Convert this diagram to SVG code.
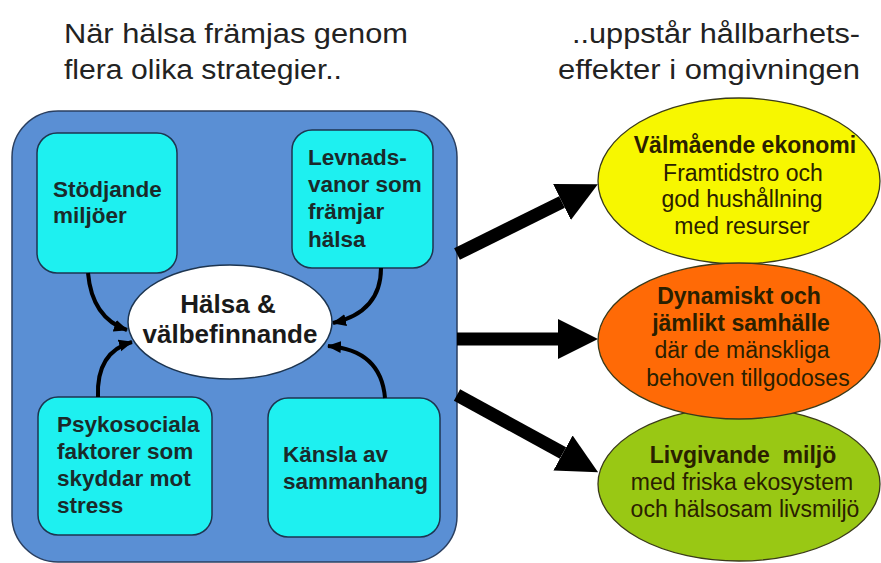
<svg xmlns="http://www.w3.org/2000/svg" width="881" height="563" viewBox="0 0 881 563">
<style>
  .title { font-family: "Liberation Sans", Arial, sans-serif; font-size: 27px; fill: #222; }
  .box { fill: #1ef0f0; stroke: #1d3550; stroke-width: 1.5; }
  .btxt { font-family: "Liberation Sans", Arial, sans-serif; font-size: 22.5px; font-weight: bold; fill: #1a2a2a; }
  .ctxt { font-family: "Liberation Sans", Arial, sans-serif; font-size: 26px; font-weight: bold; fill: #1a1a1a; text-anchor: middle; }
  .etxt { font-family: "Liberation Sans", Arial, sans-serif; font-size: 23px; fill: #2a2000; text-anchor: middle; white-space: pre; }
  .b { font-weight: bold; }
  .oval { stroke: #3a3a1a; stroke-width: 1.3; }
  .thin { fill: none; stroke: #000; stroke-width: 4; }
  .thick { fill: none; stroke: #000; stroke-width: 13; }
</style>
<defs>
  <marker id="small" markerUnits="userSpaceOnUse" markerWidth="14" markerHeight="14" viewBox="0 0 14 14" refX="13" refY="7" orient="auto">
    <path d="M0,1 L14,7 L0,13 z" fill="#000"/>
  </marker>
  <marker id="big" markerUnits="userSpaceOnUse" markerWidth="40" markerHeight="40" viewBox="0 0 40 40" refX="0" refY="20" orient="auto">
    <path d="M0,0 L40,20 L0,40 z" fill="#000"/>
  </marker>
</defs>

<g id="titles">
  <text class="title" x="64" y="43" textLength="344" lengthAdjust="spacingAndGlyphs">När hälsa främjas genom</text>
  <text class="title" x="64" y="79" textLength="278" lengthAdjust="spacingAndGlyphs">flera olika strategier..</text>
  <text class="title" x="572" y="43" textLength="288" lengthAdjust="spacingAndGlyphs">..uppstår hållbarhets-</text>
  <text class="title" x="558" y="79" textLength="302" lengthAdjust="spacingAndGlyphs">effekter i omgivningen</text>
</g>

<g id="strategier">
  <rect x="12" y="111" width="445" height="451" rx="46" ry="46" fill="#5a8fd4" stroke="#2a3f60" stroke-width="1.5"/>
</g>

<g id="stodjande">
  <rect class="box" x="37" y="133" width="140" height="140" rx="20"/>
  <text class="btxt" x="53" y="197">Stödjande</text>
  <text class="btxt" x="53" y="223">miljöer</text>
</g>

<g id="levnadsvanor">
  <rect class="box" x="292" y="130" width="141" height="138" rx="20"/>
  <text class="btxt" x="308" y="165">Levnads-</text>
  <text class="btxt" x="308" y="192">vanor som</text>
  <text class="btxt" x="308" y="219">främjar</text>
  <text class="btxt" x="308" y="247">hälsa</text>
</g>

<g id="psykosociala">
  <rect class="box" x="38" y="397" width="174" height="138" rx="20"/>
  <text class="btxt" x="57" y="432">Psykosociala</text>
  <text class="btxt" x="57" y="459">faktorer som</text>
  <text class="btxt" x="57" y="486">skyddar mot</text>
  <text class="btxt" x="57" y="513">stress</text>
</g>

<g id="kansla">
  <rect class="box" x="268" y="398" width="172" height="139" rx="20"/>
  <text class="btxt" x="283" y="462">Känsla av</text>
  <text class="btxt" x="283" y="489">sammanhang</text>
</g>

<g id="halsa">
  <ellipse cx="230" cy="322" rx="102" ry="57" fill="#fff" stroke="#1d3550" stroke-width="1.5"/>
  <text class="ctxt" x="228" y="313">Hälsa &amp;</text>
  <text class="ctxt" x="230" y="343">välbefinnande</text>
</g>

<g id="ekonomi">
  <ellipse class="oval" cx="739" cy="181" rx="141" ry="83" fill="#f7f700"/>
  <text class="etxt b" x="745" y="153">Välmående ekonomi</text>
  <text class="etxt" x="743" y="181">Framtidstro och</text>
  <text class="etxt" x="742" y="207">god hushållning</text>
  <text class="etxt" x="742" y="234">med resurser</text>
</g>

<g id="miljo">
  <ellipse class="oval" cx="739" cy="484" rx="141" ry="77" fill="#99c814"/>
  <text class="etxt b" x="743" y="463">Livgivande  miljö</text>
  <text class="etxt" x="742" y="490">med friska ekosystem</text>
  <text class="etxt" x="745" y="517">och hälsosam livsmiljö</text>
</g>

<g id="samhalle">
  <ellipse class="oval" cx="739" cy="341" rx="141" ry="78" fill="#ff6a06"/>
  <text class="etxt b" x="739" y="304">Dynamiskt och</text>
  <text class="etxt b" x="741" y="331">jämlikt samhälle</text>
  <text class="etxt" x="742" y="358">där de mänskliga</text>
  <text class="etxt" x="748" y="386">behoven tillgodoses</text>
</g>

<g id="connectors">
  <path class="thin" d="M88,273 Q92,318 127,330" marker-end="url(#small)"/>
  <path class="thin" d="M381,268 Q381,312 333,323" marker-end="url(#small)"/>
  <path class="thin" d="M98,397 Q96,352 132,342" marker-end="url(#small)"/>
  <path class="thin" d="M385,398 Q381,350 328,346" marker-end="url(#small)"/>
  <path class="thick" d="M457,254 L562,202" marker-end="url(#big)"/>
  <path class="thick" d="M457,339 L558,339" marker-end="url(#big)"/>
  <path class="thick" d="M457,395 L563,453" marker-end="url(#big)"/>
</g>
</svg>
